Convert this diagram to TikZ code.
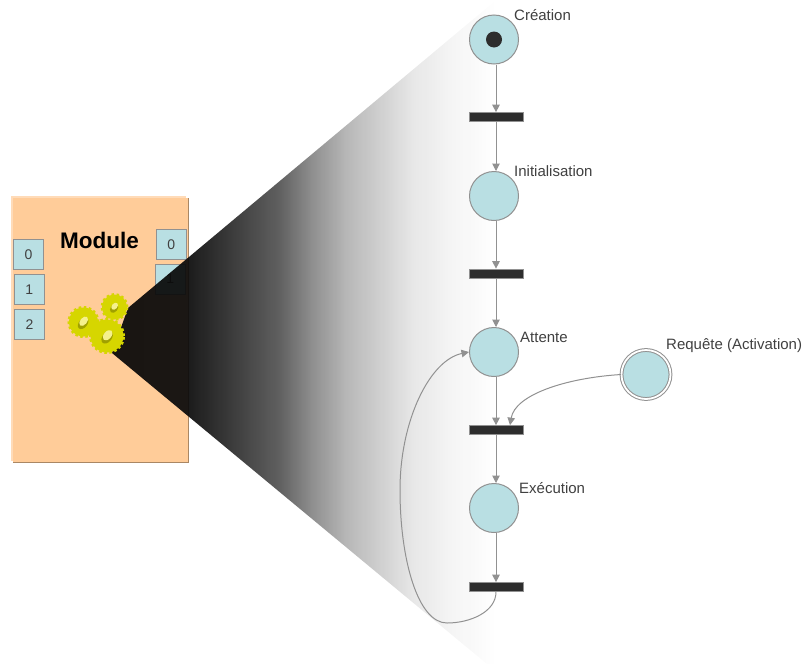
\documentclass[tikz,border=0pt]{standalone}
\usepackage{xcolor}
\usepackage{fontspec}
\setmainfont{Liberation Sans}
\usetikzlibrary{arrows.meta}
\definecolor{modulepeach}{RGB}{255,204,153}
\definecolor{modulebrown}{RGB}{170,135,100}
\definecolor{placeblue}{RGB}{185,223,227}
\definecolor{linegray}{RGB}{145,145,145}
\definecolor{bardark}{RGB}{45,45,45}
\definecolor{gearyellow}{RGB}{214,214,0}
\definecolor{gearlight}{RGB}{245,240,140}
\definecolor{geardark}{RGB}{160,160,0}
% Cone fading from black to white, stops follow the path bounding box (25bp to 75bp)
\pgfdeclarehorizontalshading{conefade}{100bp}{
  color(0bp)=(black);
  color(34.9bp)=(black!96);
  color(40.4bp)=(black!83);
  color(46.9bp)=(black!67);
  color(51.2bp)=(black!47);
  color(55.7bp)=(black!30);
  color(60bp)=(black!20);
  color(64.3bp)=(black!10);
  color(68.7bp)=(black!5);
  color(75bp)=(white);
  color(100bp)=(white)}
\tikzset{
  place/.style={circle,draw=linegray,fill=placeblue,line width=1pt,minimum size=49pt,inner sep=0pt},
  transition/.style={rectangle,draw=linegray,fill=bardark,line width=.7pt,minimum width=54pt,minimum height=9pt,inner sep=0pt},
  port/.style={rectangle,draw=linegray,fill=placeblue,line width=1pt,minimum width=30pt,minimum height=30pt,inner sep=0pt,text=black!75,font=\fontsize{14}{16}\selectfont},
  arc/.style={draw=linegray,line width=1pt,-{Triangle[length=7.5pt,width=7.5pt]}},
  label/.style={right,inner sep=0pt,text=black!75,font=\fontsize{15}{17}\selectfont},
  gear/.style={circle,fill=gearyellow,draw=gearyellow,line width=3pt,dash pattern=on 2.5pt off 2.5pt,inner sep=0pt}
}

\begin{document}
\begin{tikzpicture}[x=1pt,y=-1pt]
\useasboundingbox (0,0) rectangle (803,664);

% Module box
\fill[modulebrown] (13,198) rectangle (188.5,462.5);
\fill[modulepeach!70!white] (11,196) rectangle (186,461);
\fill[modulepeach] (12.5,197.5) rectangle (187.5,461.5);
\node[font=\fontsize{22.5}{24}\selectfont\bfseries] (title) at (99.5,240.5) {Module};
\node[port] (inzero) at (28.5,254.3) {0};
\node[port] (inone) at (29.3,289.3) {1};
\node[port] (intwo) at (29.5,324.3) {2};
\node[port] (outzero) at (171.3,244.7) {0};
\node[port] (outone) at (170.3,279) {1};

% Zoom cone
\shade[shading=conefade,opacity=.93]
  (128,308) -- (495,1) -- (495,664) -- (487,664) -- (112,353) -- cycle;

% Gears
\node[gear,minimum size=25pt] (geartop) at (114.5,307) {};
\fill[geardark,rotate around={50:(114,307)}] (113,308) ellipse (5pt and 3.5pt);
\fill[gearlight,rotate around={50:(114,307)}] (115,307) ellipse (4pt and 2.8pt);
\node[gear,minimum size=29pt] (gearleft) at (83.5,322) {};
\fill[geardark,rotate around={50:(83,322)}] (82,323) ellipse (6.5pt and 4.2pt);
\fill[gearlight,rotate around={50:(83,322)}] (84,322) ellipse (5.5pt and 3.4pt);
\node[gear,minimum size=33pt] (gearfront) at (107,336) {};
\fill[geardark,rotate around={50:(107,336)}] (106,337) ellipse (7pt and 4.6pt);
\fill[gearlight,rotate around={50:(107,336)}] (108,336) ellipse (6pt and 3.8pt);

% Places and transitions
\node[place] (creation) at (494,39.5) {};
\fill[bardark] (creation) circle (8pt);
\node[place] (initialisation) at (494,196) {};
\node[place] (attente) at (494,352) {};
\node[place] (execution) at (494,508) {};
\node[place,minimum size=49pt,double=white,double distance=1.8pt] (requete) at (646,374.5) {};
\node[transition] (barone) at (496,117) {};
\node[transition] (bartwo) at (496,273.5) {};
\node[transition] (barthree) at (496,430) {};
\node[transition] (barfour) at (496,587) {};

% Labels
\node[label] at (514,15) {Création};
\node[label] at (514,171) {Initialisation};
\node[label] at (520,337) {Attente};
\node[label] at (519,488) {Exécution};
\node[label] at (666,346) {Requête (Activation)};

% Arcs
\draw[arc] (barone |- creation.south) -- (barone.north);
\draw[arc] (barone.south) -- (barone |- initialisation.north);
\draw[arc] (bartwo |- initialisation.south) -- (bartwo.north);
\draw[arc] (bartwo.south) -- (bartwo |- attente.north);
\draw[arc] (barthree |- attente.south) -- (barthree.north);
\draw[arc] (barthree.south) -- (barthree |- execution.north);
\draw[arc] (barfour |- execution.south) -- (barfour.north);
\draw[arc] (requete.west) .. controls (565,378) and (515,395) .. ([xshift=14pt]barthree.north);
\draw[arc] (barfour.south) .. controls (496,612) and (470,623) .. (447,623)
  .. controls (418,623) and (400,560) .. (400,490)
  .. controls (400,420) and (430,360) .. (attente.west);
\end{tikzpicture}
\end{document}
